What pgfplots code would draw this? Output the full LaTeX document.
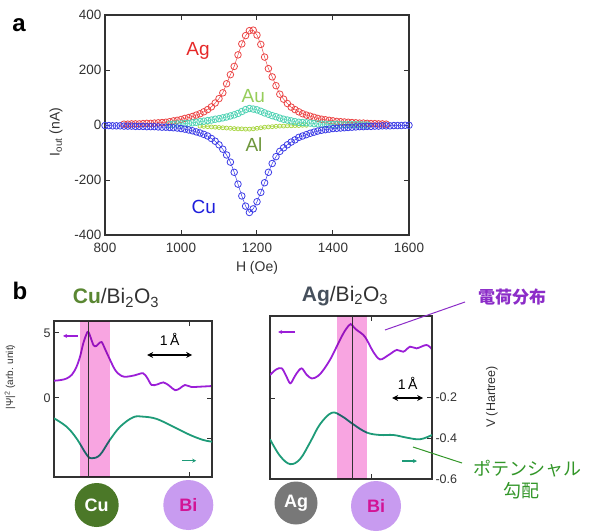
\documentclass[border=0pt]{standalone}
\usepackage{pgfplots}
\pgfplotsset{compat=1.18}
\usetikzlibrary{arrows.meta}
\usepackage{fontspec}
\setmainfont{Liberation Sans}
\newfontfamily\jp{Noto Sans CJK JP}
\definecolor{agred}{RGB}{235,70,70}
\definecolor{auteal}{RGB}{80,210,180}
\definecolor{algreen}{RGB}{165,212,60}
\definecolor{cublue}{RGB}{60,60,230}
\definecolor{agtxt}{RGB}{230,40,40}
\definecolor{autxt}{RGB}{150,205,90}
\definecolor{altxt}{RGB}{110,150,60}
\definecolor{cutxt}{RGB}{30,30,220}
\definecolor{purp}{RGB}{155,30,215}
\definecolor{grn}{RGB}{30,155,120}
\definecolor{pinkb}{RGB}{248,165,225}
\definecolor{cugreen}{RGB}{75,120,40}
\definecolor{bipurp}{RGB}{200,155,240}
\definecolor{bimag}{RGB}{210,20,150}
\definecolor{aggray}{RGB}{120,120,120}
\definecolor{titlecu}{RGB}{90,135,50}
\definecolor{titleag}{RGB}{70,80,92}
\definecolor{jppurp}{RGB}{140,45,200}
\definecolor{jpgreen}{RGB}{50,150,40}
\definecolor{frame}{RGB}{50,50,50}
\pgfplotsset{
  every axis/.append style={
    scale only axis,
    axis line style={line width=1.1pt, draw=frame},
    tick style={line width=1pt, draw=frame},
    tick align=inside, major tick length=5pt,
    /pgf/number format/assume math mode=true,
    /pgf/number format/1000 sep={},
    tick label style={font=\fontsize{13.5}{15}\selectfont, text=frame},
  }
}
\begin{document}
\begin{tikzpicture}[x=1pt,y=1pt]
\path[use as bounding box] (0pt,0pt) rectangle (591pt,531pt);
% ---------------- panel a ----------------
\node[font=\fontsize{24}{26}\selectfont\bfseries] at (19pt,506pt) {a};
\begin{axis}[at={(105pt,296pt)}, anchor=south west, width=304pt, height=220pt,
  xmin=800, xmax=1600, ymin=-400, ymax=400,
  xtick={800,1000,...,1600}, ytick={-400,-200,...,400}, clip=false,
  xticklabel style={yshift=-5pt}]
\addplot[agred, line width=0.5pt, mark=o, mark size=3.3pt, mark options={line width=0.8pt}] coordinates {
(850,3)(860,3)(870,4)(880,4)(890,4)(900,5)(910,6)(920,6)(930,7)(940,8)(950,9)(960,10)(970,12)(980,15)(990,17)(1000,20)(1010,24)(1020,27)(1030,31)(1040,36)(1050,41)(1060,48)(1070,56)(1080,66)(1090,80)(1100,96)(1110,117)(1120,150)(1130,183)(1140,213)(1150,255)(1160,295)(1170,325)(1180,343)(1190,345)(1200,327)(1210,293)(1220,247)(1230,205)(1240,175)(1250,143)(1260,112)(1270,94)(1280,78)(1290,65)(1300,56)(1310,48)(1320,41)(1330,36)(1340,32)(1350,28)(1360,24)(1370,21)(1380,19)(1390,17)(1400,15)(1410,13)(1420,12)(1430,11)(1440,10)(1450,9)(1460,8)(1470,7)(1480,7)(1490,6)(1500,5)(1510,5)(1520,4)(1530,4)(1540,3)};
\addplot[algreen, line width=0.5pt, mark=o, mark size=2pt, mark options={line width=0.7pt}] coordinates {
(1050,-4)(1060,-5)(1070,-6)(1080,-7)(1090,-8)(1100,-9)(1110,-10)(1120,-11)(1130,-12)(1140,-13)(1150,-14)(1160,-14)(1170,-15)(1180,-15)(1190,-14)(1200,-12)(1210,-10)(1220,-8)(1230,-7)(1240,-6)(1250,-5)(1260,-4)(1270,-4)(1280,-3)(1290,-3)(1300,-2)(1310,-2)(1320,-1)(1330,-1)};
\addplot[auteal, line width=0.5pt, mark=o, mark size=3.3pt, mark options={line width=0.8pt}] coordinates {
(970,2)(980,3)(990,4)(1000,4)(1010,5)(1020,6)(1030,8)(1040,10)(1050,12)(1060,14)(1070,16)(1080,18)(1090,21)(1100,23)(1110,26)(1120,29)(1130,33)(1140,37)(1150,42)(1160,49)(1170,56)(1180,60)(1190,58)(1200,55)(1210,50)(1220,44)(1230,39)(1240,34)(1250,30)(1260,25)(1270,21)(1280,18)(1290,15)(1300,12)(1310,10)(1320,9)(1330,8)(1340,7)(1350,5)(1360,4)(1370,3)(1380,3)(1390,2)(1400,2)(1410,2)(1420,1)(1430,1)(1440,1)(1450,1)(1460,1)(1470,1)(1480,0)(1490,0)};
\addplot[cublue, line width=0.5pt, mark=o, mark size=3.3pt, mark options={line width=0.8pt}] coordinates {
(800,-2)(810,-2)(820,-3)(830,-3)(840,-3)(850,-4)(860,-4)(870,-4)(880,-5)(890,-5)(900,-5)(910,-6)(920,-6)(930,-6)(940,-7)(950,-8)(960,-8)(970,-9)(980,-10)(990,-11)(1000,-13)(1010,-15)(1020,-18)(1030,-21)(1040,-25)(1050,-29)(1060,-34)(1070,-40)(1080,-49)(1090,-59)(1100,-72)(1110,-88)(1120,-109)(1130,-135)(1140,-172)(1150,-215)(1160,-258)(1170,-295)(1180,-318)(1190,-305)(1200,-279)(1210,-245)(1220,-210)(1230,-172)(1240,-140)(1250,-115)(1260,-96)(1270,-83)(1280,-72)(1290,-62)(1300,-54)(1310,-45)(1320,-40)(1330,-35)(1340,-30)(1350,-26)(1360,-22)(1370,-19)(1380,-17)(1390,-15)(1400,-13)(1410,-12)(1420,-11)(1430,-10)(1440,-9)(1450,-8)(1460,-7)(1470,-6)(1480,-6)(1490,-5)(1500,-5)(1510,-4)(1520,-4)(1530,-3)(1540,-3)(1550,-3)(1560,-2)(1570,-2)(1580,-2)(1590,-1)(1600,-1)};
\node[agtxt, font=\fontsize{19}{21}\selectfont] at (axis cs:1045,270) {Ag};
\node[autxt, font=\fontsize{19}{21}\selectfont] at (axis cs:1190,105) {Au};
\node[altxt, font=\fontsize{19}{21}\selectfont] at (axis cs:1192,-70) {Al};
\node[cutxt, font=\fontsize{19}{21}\selectfont] at (axis cs:1060,-298) {Cu};
\end{axis}
\node[rotate=90, text=frame, font=\fontsize{14}{16}\selectfont] at (56pt,399pt) {I\textsubscript{out} (nA)};
\node[text=frame, font=\fontsize{14}{16}\selectfont] at (257pt,263pt) {H (Oe)};
% ---------------- panel b ----------------
\node[font=\fontsize{24}{26}\selectfont\bfseries] at (20pt,240pt) {b};
\node[font=\fontsize{21}{23}\selectfont] at (116pt,233pt) {\textcolor{titlecu}{\bfseries Cu}\textcolor{frame}{/Bi\textsubscript{2}O\textsubscript{3}}};
\node[font=\fontsize{21}{23}\selectfont] at (345pt,235pt) {\textcolor{titleag}{\bfseries Ag}\textcolor{frame}{/Bi\textsubscript{2}O\textsubscript{3}}};
% left plot
\begin{axis}[at={(54pt,54pt)}, anchor=south west, width=158pt, height=156pt,
  xmin=0, xmax=3.511, ymin=-6.077, ymax=5.923,
  xtick={3.02}, xticklabels={}, ytick={0,5}, ytick pos=left,
  tick label style={font=\fontsize{12.5}{14}\selectfont}]
\addplot[purp, line width=1.8pt, smooth, tension=0.55] coordinates {
(0,1.33)(0.15,1.38)(0.28,1.5)(0.4,1.8)(0.5,2.4)(0.58,3.2)(0.65,4.2)(0.72,4.9)(0.76,5.1)(0.82,4.6)(0.88,4.05)(0.94,4.0)(1.0,4.2)(1.06,4.3)(1.13,3.8)(1.21,3.2)(1.36,2.15)(1.5,1.7)(1.62,1.64)(1.8,1.75)(1.98,1.9)(2.08,1.5)(2.17,1.0)(2.3,1.05)(2.43,1.2)(2.56,0.95)(2.69,0.6)(2.8,0.75)(2.91,1.0)(3.05,0.85)(3.24,0.87)(3.51,0.92)};
\draw[purp, line width=1.4pt, -{Stealth[length=4pt,width=4pt]}] (axis cs:0.53,4.77) -- (axis cs:0.2,4.77);
\draw[black, line width=1.2pt, {Stealth[length=6pt,width=6pt]}-{Stealth[length=6pt,width=6pt]}] (axis cs:2.07,3.31) -- (axis cs:3.07,3.31);
\node[font=\fontsize{14}{16}\selectfont] at (axis cs:2.57,4.5) {1\,Å};
\end{axis}
\begin{axis}[at={(54pt,54pt)}, anchor=south west, width=158pt, height=156pt,
  xmin=0, xmax=3.511, ymin=-0.5854, ymax=0.1756,
  hide x axis, axis y line*=right, ytick={-0.2,-0.4}, yticklabels={}]
\addplot[grn, line width=1.8pt, smooth, tension=0.6] coordinates {
(0,-0.299)(0.28,-0.340)(0.5,-0.397)(0.73,-0.478)(0.84,-0.494)(1.02,-0.478)(1.24,-0.405)(1.47,-0.340)(1.76,-0.294)(1.98,-0.291)(2.28,-0.302)(2.65,-0.340)(3.02,-0.380)(3.32,-0.405)(3.51,-0.413)};
\fill[pinkb, blend mode=multiply] (axis cs:0.58,-0.5854) rectangle (axis cs:1.24,0.1756);
\draw[frame, line width=1pt] (axis cs:0.756,-0.5854) -- (axis cs:0.756,0.1756);
\draw[grn, line width=1.4pt, -{Stealth[length=4pt,width=4pt]}] (axis cs:2.84,-0.506) -- (axis cs:3.16,-0.506);
\end{axis}
% right plot
\begin{axis}[at={(270pt,52pt)}, anchor=south west, width=162pt, height=163pt,
  xmin=0, xmax=5.226, ymin=-6.23, ymax=6.31,
  xtick={3.29}, xticklabels={}, ytick={0}, yticklabels={}, ytick pos=left]
\addplot[purp, line width=1.8pt, smooth, tension=0.55] coordinates {
(0,1.77)(0.2,2.2)(0.38,2.28)(0.52,1.7)(0.65,1.13)(0.76,1.5)(0.86,1.9)(1.02,2.28)(1.18,1.8)(1.35,1.5)(1.55,1.7)(1.72,2.15)(1.95,3.0)(2.15,3.95)(2.35,4.9)(2.47,5.36)(2.60,5.69)(2.70,5.45)(2.80,5.23)(3.06,4.72)(3.33,3.56)(3.55,2.97)(3.82,3.3)(4.09,3.7)(4.30,3.56)(4.52,3.95)(4.73,3.82)(5.05,4.08)(5.226,3.74)};
\draw[purp, line width=1.4pt, -{Stealth[length=4pt,width=4pt]}] (axis cs:0.81,5.08) -- (axis cs:0.26,5.08);
\draw[black, line width=1.2pt, {Stealth[length=6pt,width=6pt]}-{Stealth[length=6pt,width=6pt]}] (axis cs:3.94,0) -- (axis cs:4.94,0);
\node[font=\fontsize{14}{16}\selectfont] at (axis cs:4.44,1.1) {1\,Å};
\end{axis}
\begin{axis}[at={(270pt,52pt)}, anchor=south west, width=162pt, height=163pt,
  xmin=0, xmax=5.226, ymin=-0.6, ymax=0.2,
  hide x axis, axis y line*=right, ytick={-0.6,-0.4,-0.2},
  tick label style={font=\fontsize{12.5}{14}\selectfont}]
\addplot[grn, line width=1.8pt, smooth, tension=0.6] coordinates {
(0,-0.405)(0.32,-0.486)(0.65,-0.527)(0.97,-0.502)(1.29,-0.421)(1.61,-0.332)(1.99,-0.275)(2.31,-0.291)(2.69,-0.332)(3.12,-0.372)(3.55,-0.384)(3.98,-0.384)(4.41,-0.397)(4.84,-0.405)(5.226,-0.384)};
\fill[pinkb, blend mode=multiply] (axis cs:2.16,-0.6) rectangle (axis cs:3.13,0.2);
\draw[frame, line width=1pt] (axis cs:2.65,-0.6) -- (axis cs:2.65,0.2);
\draw[grn, line width=1.4pt, -{Stealth[length=4pt,width=4pt]}] (axis cs:4.26,-0.512) -- (axis cs:4.74,-0.512);
\end{axis}
\node[rotate=90, text=frame, font=\fontsize{10}{12}\selectfont] at (10pt,154pt) {|Ψ|\textsuperscript{2} (arb. unit)};
\node[rotate=90, text=frame, font=\fontsize{12.5}{14}\selectfont] at (492pt,134pt) {V (Hartree)};
% annotations
\draw[jppurp, line width=1pt] (465pt,229pt) -- (385pt,201pt);
\node[jppurp, font=\fontsize{17}{19}\selectfont\jp\bfseries] at (512pt,234pt) {電荷分布};
\draw[jpgreen, line width=1pt] (462pt,68pt) -- (413pt,84pt);
\node[jpgreen, font=\fontsize{18}{20}\selectfont\jp] at (527pt,62pt) {ポテンシャル};
\node[jpgreen, font=\fontsize{18}{20}\selectfont\jp] at (521pt,40pt) {勾配};
% atoms
\fill[cugreen] (96.7pt,26pt) circle (22pt);
\node[white, font=\fontsize{18}{20}\selectfont\bfseries] at (96.7pt,26pt) {Cu};
\fill[bipurp] (188.3pt,26pt) circle (25pt);
\node[bimag, font=\fontsize{18}{20}\selectfont\bfseries] at (188.3pt,26pt) {Bi};
\fill[aggray] (296pt,28pt) circle (21.5pt);
\node[white, font=\fontsize{18}{20}\selectfont\bfseries] at (296pt,28pt) {Ag};
\fill[bipurp] (376pt,25pt) circle (25pt);
\node[bimag, font=\fontsize{18}{20}\selectfont\bfseries] at (376pt,25pt) {Bi};
\end{tikzpicture}
\end{document}
